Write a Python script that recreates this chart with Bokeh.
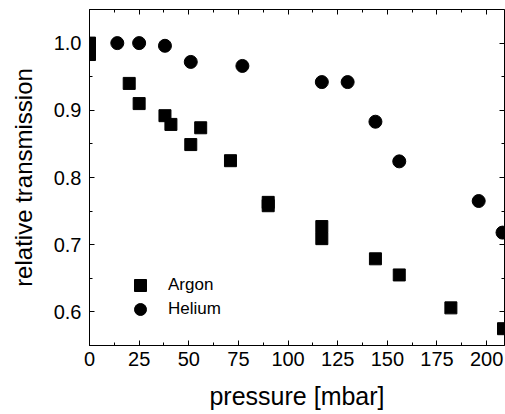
from bokeh.plotting import figure
from bokeh.models import (LinearAxis, FixedTicker, Legend, LegendItem,
                          NumeralTickFormatter, CustomJSTickFormatter, Range1d)
from bokeh.embed import file_html
from bokeh.resources import INLINE

# ---- data ----
argon_p = [0, 0, 20, 25, 38, 41, 51, 56, 71, 90, 90, 117, 117, 144, 156, 182, 208.5]
argon_t = [1.0, 0.983, 0.940, 0.910, 0.892, 0.879, 0.849, 0.874, 0.825,
           0.763, 0.758, 0.727, 0.709, 0.679, 0.655, 0.606, 0.575]
helium_p = [14, 25, 38, 51, 77, 117, 130, 144, 156, 196, 208]
helium_t = [1.0, 1.0, 0.996, 0.972, 0.966, 0.942, 0.942, 0.883, 0.824, 0.765, 0.718]

x_ticks = [0, 25, 50, 75, 100, 125, 150, 175, 200]
x_minor = [12.5, 37.5, 62.5, 87.5, 112.5, 137.5, 162.5, 187.5, 212.5]
y_ticks = [0.6, 0.7, 0.8, 0.9, 1.0]
y_minor = [0.55, 0.65, 0.75, 0.85, 0.95, 1.05]
x_lim = (0, 209)
y_lim = (0.55, 1.05)
x_title = "pressure [mbar]"
y_title = "relative transmission"

FONT = "Liberation Sans"

p = figure(width=505, height=414, output_backend="svg", toolbar_location=None,
           x_range=Range1d(*x_lim), y_range=Range1d(*y_lim),
           min_border_left=89, min_border_right=1, min_border_top=9,
           min_border_bottom=69, x_axis_label=x_title, y_axis_label=y_title)
p.grid.visible = False
p.outline_line_color = "black"
p.outline_line_width = 1
p.background_fill_color = "white"
p.border_fill_color = "white"

xt = FixedTicker(ticks=x_ticks, minor_ticks=x_minor)
yt = FixedTicker(ticks=y_ticks, minor_ticks=y_minor)

def style(ax, labels=True):
    ax.axis_line_color = "black"
    ax.axis_line_width = 1
    ax.major_tick_in = 5
    ax.major_tick_out = 0
    ax.minor_tick_in = 3
    ax.minor_tick_out = 0
    ax.major_tick_line_color = "black"
    ax.minor_tick_line_color = "black"
    ax.major_label_text_font = FONT
    ax.major_label_text_color = "black"
    ax.axis_label_text_font = FONT
    ax.axis_label_text_font_style = "normal"
    ax.axis_label_text_color = "black"
    ax.axis_label_text_font_size = "24px"
    ax.major_label_text_font_size = "20px"
    if not labels:
        ax.formatter = CustomJSTickFormatter(code="return ''")
        ax.major_label_standoff = 0
        ax.axis_label_standoff = 0

xa = p.xaxis[0]
xa.ticker = xt
xa.formatter = NumeralTickFormatter(format="0")
style(xa)
xa.major_label_standoff = 6
xa.axis_label_standoff = 13
xa.axis_label_text_font_size = "25px"

ya = p.yaxis[0]
ya.ticker = yt
ya.formatter = NumeralTickFormatter(format="0.0")
style(ya)
ya.major_label_standoff = 8
ya.axis_label_standoff = 14

top = LinearAxis(ticker=xt, fixed_location=y_lim[1])
style(top, labels=False)
p.add_layout(top, "above")
right = LinearAxis(ticker=yt, fixed_location=x_lim[1])
style(right, labels=False)
p.add_layout(right, "right")

ra = p.scatter(argon_p, argon_t, marker="square", size=12,
               fill_color="black", line_color="black")
rh = p.scatter(helium_p, helium_t, marker="circle", size=13,
               fill_color="black", line_color="black")

def make_legend(label, rend, loc):
    lg = Legend(items=[LegendItem(label=label, renderers=[rend])], location=loc)
    lg.border_line_color = None
    lg.background_fill_alpha = 0
    lg.padding = 0
    lg.margin = 0
    lg.spacing = 0
    lg.glyph_width = 30
    lg.glyph_height = 30
    lg.label_standoff = 13
    lg.label_text_font = FONT
    lg.label_text_font_size = "17px"
    lg.label_text_color = "black"
    p.add_layout(lg, "center")

make_legend("Argon", ra, (36, 45))
make_legend("Helium", rh, (36, 21))

open("out.html", "w").write(file_html(p, INLINE))
